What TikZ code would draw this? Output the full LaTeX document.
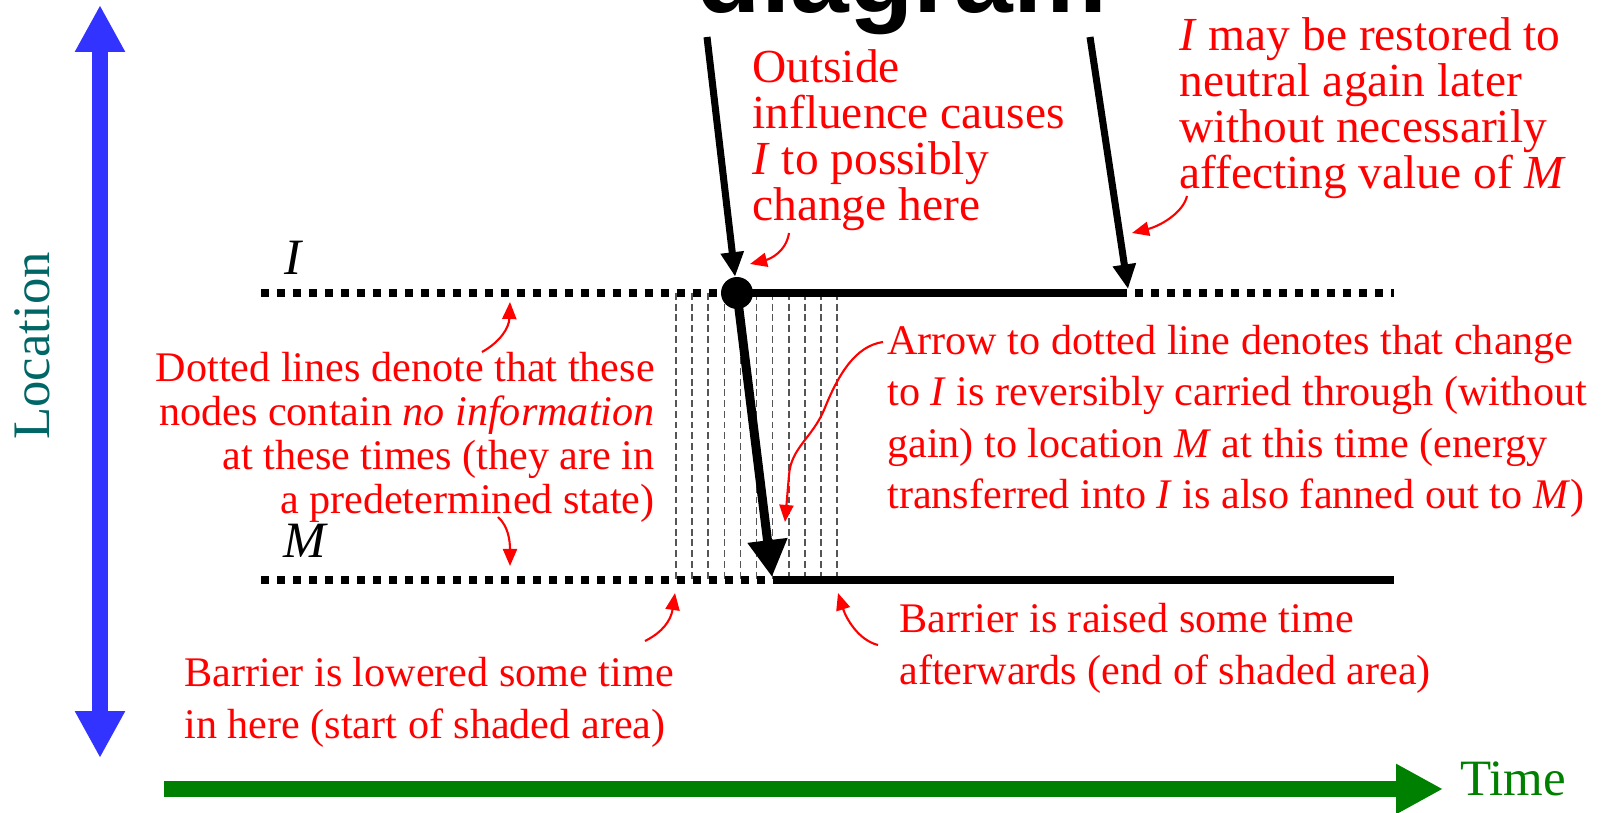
\documentclass[tikz,border=0pt]{standalone}
\usepackage{fontspec}
\setmainfont{Liberation Serif}
\newfontfamily\titlefont{Liberation Sans}
\usetikzlibrary{arrows.meta, positioning, calc}
\definecolor{noteRed}{RGB}{255,0,0}
\definecolor{axisBlue}{RGB}{51,51,255}
\definecolor{axisGreen}{RGB}{0,128,0}
\definecolor{axisTeal}{RGB}{0,102,102}
\definecolor{barrierGray}{RGB}{85,85,85}
\tikzset{
    notetext/.style={
        text=noteRed,
        inner sep=0pt,
        align=left,
        font=\fontsize{24}{29.4}\selectfont
    },
    bigtext/.style={
        inner sep=0pt,
        font=\fontsize{29}{34}\selectfont
    },
    dotline/.style={line width=4.55pt, dash pattern=on 4.55pt off 4.55pt},
    solidline/.style={line width=4.55pt},
    barrierline/.style={draw=barrierGray, line width=0.9pt, dash pattern=on 3.9pt off 2.2pt},
    inarrow/.style={-{Triangle[length=14pt, width=12.5pt]}, line width=4pt},
    fanarrow/.style={-{Triangle[length=21pt, width=21.6pt]}, line width=5.1pt},
    axisarrow/.style={line width=9.1pt},
    pointer/.style={-{Triangle[length=9.7pt, width=8pt]}, draw=noteRed, line width=1.2pt}
}
\begin{document}
\begin{tikzpicture}[x=0.02cm, y=-0.02cm]
\useasboundingbox (0,0) rectangle (1605,813);

% title cut off at the top edge
\node[inner sep=0pt, anchor=base, font=\titlefont\bfseries\fontsize{60}{60}\selectfont] (title) at (902,13) {diagram};

% axes
\coordinate (locTop) at (100,5);
\coordinate (locBottom) at (100,758);
\coordinate (timeStart) at (164,789);
\coordinate (timeEnd) at (1443,789);
\draw[axisarrow, draw=axisBlue, {Triangle[length=26.7pt, width=26.7pt]}-{Triangle[length=26.7pt, width=26.7pt]}] (locTop) -- (locBottom);
\draw[axisarrow, draw=axisGreen, -{Triangle[length=26.7pt, width=26.7pt]}] (timeStart) -- (timeEnd);
\node[bigtext, text=axisTeal, rotate=90, anchor=base, font=\fontsize{30}{34}\selectfont] (location) at (50,346) {Location};
\node[bigtext, text=axisGreen, anchor=base west] (time) at (1460,795) {Time};

% shaded barrier interval
\foreach \k in {0,...,10}
    \draw[barrierline] (676+16.1*\k,293) -- (676+16.1*\k,580);

% node lines
\coordinate (Ileft) at (261,293);
\coordinate (Ichange) at (737,293);
\coordinate (Irestore) at (1127,293);
\coordinate (Iright) at (1394,293);
\coordinate (Mleft) at (261,580);
\coordinate (Mchange) at (773,580);
\coordinate (Mright) at (1394,580);
\draw[dotline] (Ileft) -- (Ichange);
\draw[solidline] (Ichange) -- (Irestore);
\draw[dotline, dash phase=4.55pt] (Irestore) -- (Iright);
\draw[dotline] (Mleft) -- (Mchange);
\draw[solidline] (Mchange) -- (Mright);
\node[bigtext, anchor=base] (Ilabel) at (294,275) {\textit{I}};
\node[bigtext, anchor=base] (Mlabel) at (306,558) {\textit{M}};

% outside influence and fan-out
\coordinate (influx) at (707,37);
\coordinate (restorer) at (1090,37);
\coordinate (Iback) at (1128,289);
\coordinate (Mhit) at (772,577);
\draw[fanarrow] (Ichange) -- (Mhit);
\node[circle, fill, inner sep=0pt, minimum size=18.2pt] (dot) at (Ichange) {};
\draw[inarrow] (influx) -- (dot);
\draw[inarrow] (restorer) -- (Iback);

% notes (base = last line)
\node[notetext, anchor=base west, font=\fontsize{27}{26.2}\selectfont] (influence) at (752,221) {Outside\\influence causes\\\textit{I} to possibly\\change here};
\node[notetext, anchor=base west, font=\fontsize{27}{26.2}\selectfont] (restore) at (1179,189) {\textit{I} may be restored to\\neutral again later\\without necessarily\\affecting value of \textit{M}};
\node[notetext, anchor=base east, align=right, font=\fontsize{24}{25.2}\selectfont] (dotted) at (655,514) {Dotted lines denote that these\\nodes contain \textit{no information}\\at these times (they are in\\a predetermined state)};
\node[notetext, anchor=base west] (fanout) at (887,509) {Arrow to dotted line denotes that change\\to \textit{I} is reversibly carried through (without\\gain) to location \textit{M} at this time (energy\\transferred into \textit{I} is also fanned out to \textit{M})};
\node[notetext, anchor=base west] (lowered) at (184,738) {Barrier is lowered some time\\in here (start of shaded area)};
\node[notetext, anchor=base west] (raised) at (899,684) {Barrier is raised some time\\afterwards (end of shaded area)};

% pointers from notes
\coordinate (changeTail) at (789,233);
\coordinate (changeHead) at (750,264);
\coordinate (restoreTail) at (1187,196);
\coordinate (restoreHead) at (1132,233);
\coordinate (dottedTail) at (482,352);
\coordinate (dottedHead) at (510,302);
\coordinate (stateTail) at (498,517);
\coordinate (stateHead) at (510,566);
\coordinate (fanTail) at (883,342);
\coordinate (fanHead) at (785,522);
\coordinate (lowerTail) at (645,641);
\coordinate (lowerHead) at (675,593);
\coordinate (raiseTail) at (878,645);
\coordinate (raiseHead) at (838,593);
\draw[pointer] (changeTail) .. controls (786,252) and (770,259) .. (changeHead);
\draw[pointer] (restoreTail) .. controls (1183,213) and (1160,226) .. (restoreHead);
\draw[pointer] (dottedTail) .. controls (500,342) and (509,328) .. (dottedHead);
\draw[pointer] (stateTail) .. controls (508,526) and (510,540) .. (stateHead);
\draw[pointer] (fanTail) .. controls (855,346) and (838,375) .. (824,410)
    .. controls (812,438) and (791,448) .. (789,475) -- (fanHead);
\draw[pointer] (lowerTail) .. controls (663,632) and (671,620) .. (lowerHead);
\draw[pointer] (raiseTail) .. controls (858,640) and (846,618) .. (raiseHead);
\end{tikzpicture}
\end{document}
